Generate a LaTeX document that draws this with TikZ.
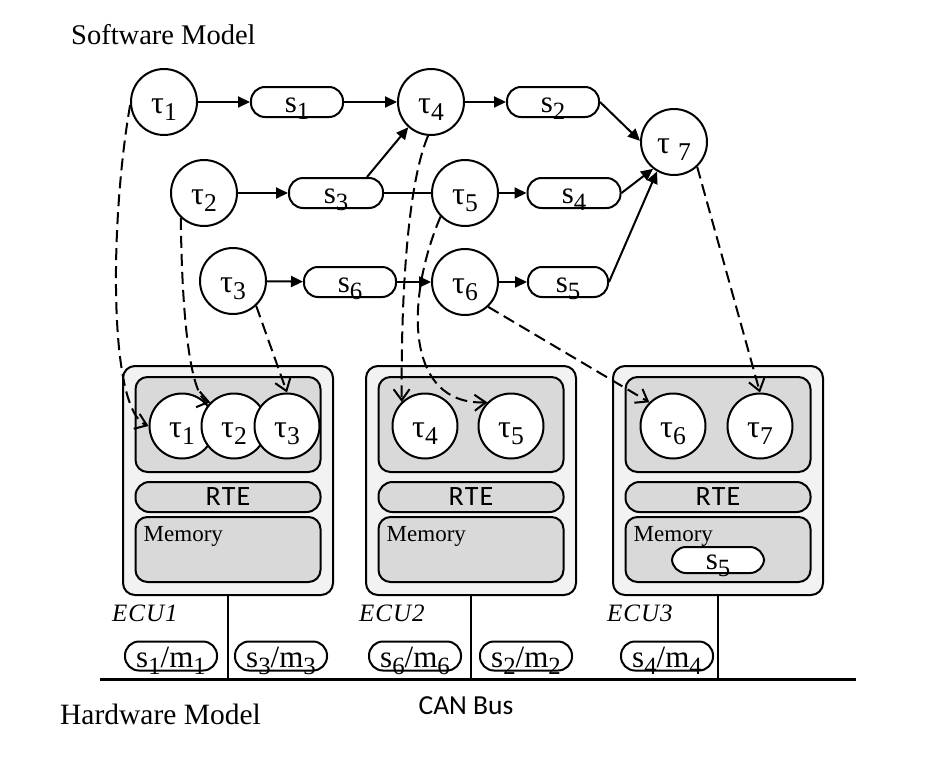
\documentclass[tikz,border=0pt]{standalone}
\usepackage{fontspec}
\usepackage{graphicx}
\setmainfont{Liberation Serif}
\newfontfamily\sansf{Carlito}
\usetikzlibrary{arrows.meta}
\newcommand\lo[1]{\raisebox{-0.24em}{\scalebox{0.8}{#1}}}
\definecolor{outerg}{RGB}{242,242,242}
\definecolor{innerg}{RGB}{217,217,217}
\begin{document}
\begin{tikzpicture}[x=1pt,y=-1pt,
  lw/.style={line width=2pt},
  task/.style={circle, draw, lw, fill=white, minimum size=66pt, inner sep=0pt,
    font=\fontsize{32}{32}\selectfont, text height=22pt, text depth=0pt},
  hwtask/.style={task, minimum size=65pt, text height=22pt},
  msg/.style={rectangle, rounded corners=14pt, draw, lw, fill=white, minimum width=92pt,
    minimum height=30pt, inner sep=0pt, font=\fontsize{31}{31}\selectfont,
    text height=20pt, text depth=0pt},
  busmsg/.style={msg, minimum height=29pt, font=\fontsize{31}{31}\selectfont, text height=22pt},
  ecuout/.style={rectangle, rounded corners=12pt, draw, lw, fill=outerg, minimum width=210pt, minimum height=229pt},
  ecuin/.style={rectangle, rounded corners=12pt, draw, lw, fill=innerg, minimum width=185pt, minimum height=95pt},
  rteb/.style={rectangle, rounded corners=14pt, draw, lw, fill=innerg, minimum width=185pt, minimum height=30pt,
    inner sep=0pt, font=\sansf\fontsize{28}{28}\selectfont},
  memb/.style={rectangle, rounded corners=12pt, draw, lw, fill=innerg, minimum width=185pt, minimum height=65pt},
  sol/.style={lw, -{Triangle[length=12pt,width=11pt]}},
  plain/.style={lw},
  map/.style={lw, dash pattern=on 12pt off 6pt, -{Straight Barb[length=11pt,width=16pt]}},
  memlabel/.style={anchor=base west, font=\fontsize{23}{23}\selectfont, inner sep=0pt},
  eculabel/.style={anchor=base west, font=\itshape\fontsize{25}{25}\selectfont, inner sep=0pt},
  title/.style={anchor=base west, font=\fontsize{28.5}{28.5}\selectfont, inner sep=0pt}
]
\useasboundingbox (0,0) rectangle (940,758);

% titles
\node[title] (swm) at (71,44) {Software Model};
\node[title, font=\fontsize{29.5}{29.5}\selectfont] (hwm) at (60,724) {Hardware Model};
\node[anchor=base, inner sep=0pt, font=\sansf\fontsize{27.5}{27.5}\selectfont] (can) at (466,714) {CAN Bus};

% software model
\node[task] (t1) at (164,102) {τ\lo{1}};
\node[msg]  (s1) at (297,102) {s\lo{1}};
\node[task] (t4) at (431,102) {τ\lo{4}};
\node[msg]  (s2) at (553,102) {s\lo{2}};
\node[task] (t7) at (674,142) {τ \lo{7}};
\node[task] (t2) at (204,193) {τ\lo{2}};
\node[msg, minimum width=94pt] (s3) at (336,193) {s\lo{3}};
\node[task] (t5) at (465,193) {τ\lo{5}};
\node[msg, minimum width=93pt] (s4) at (574,193) {s\lo{4}};
\node[task] (t3) at (233,281) {τ\lo{3}};
\node[msg]  (s6) at (350,282) {s\lo{6}};
\node[task] (t6) at (465,282) {τ\lo{6}};
\node[msg, minimum width=80pt] (s5) at (568,282) {s\lo{5}};

\draw[sol] (t1) -- (s1);
\draw[sol] (s1) -- (t4);
\draw[sol] (t4) -- (s2);
\draw[sol] (s2.east) -- (t7.178);
\draw[sol] (t2) -- (s3);
\draw[sol] ([xshift=31pt]s3.north) -- (t4.228);
\draw[plain] (s3) -- (t5);
\draw[sol] (t5) -- (s4);
\draw[sol] (s4.east) -- (t7.232);
\draw[sol] (t3) -- (s6);
\draw[sol] (s6) -- (t6);
\draw[sol] (t6) -- (s5);
\draw[sol] (s5.east) -- (t7.240);

% hardware model
\coordinate (busL) at (100,679);
\coordinate (busR) at (856,679);

\foreach \n/\x in {1/228,2/471,3/718}{
  \node[ecuout] (ecu\n) at (\x,480.5) {};
  \node[ecuin]  (in\n)  at (\x,424.5) {};
  \node[rteb]   (rte\n) at (\x,497) {R\kern1pt T\kern1pt E};
  \node[memb]   (mem\n) at (\x,549.5) {};
  \node[memlabel] (ml\n) at ([xshift=9pt,yshift=-25pt]mem\n.north west) {Memory};
  \draw[lw] (ecu\n.south) -- (ecu\n.south |- busL);
}
\node[eculabel] (e1) at (112,621) {E\kern1pt C\kern1pt U\kern1pt 1};
\node[eculabel] (e2) at (359,621) {E\kern1pt C\kern1pt U\kern1pt 2};
\node[eculabel] (e3) at (607,621) {E\kern1pt C\kern1pt U\kern1pt 3};

\node[msg, minimum height=26pt, text height=18pt] (ms5) at (718,560) {s\lo{5}};

\node[hwtask] (h1) at (182,426) {τ\lo{1}};
\node[hwtask] (h2) at (234,426) {τ\lo{2}};
\node[hwtask] (h3) at (287,426) {τ\lo{3}};
\node[hwtask] (h4) at (425,426) {τ\lo{4}};
\node[hwtask] (h5) at (511,426) {τ\lo{5}};
\node[hwtask] (h6) at (673,426) {τ\lo{6}};
\node[hwtask] (h7) at (760,426) {τ\lo{7}};

\draw[line width=3pt] (busL) -- (busR);
\node[busmsg] (m1) at (171,656) {s\lo{1}/m\lo{1}};
\node[busmsg] (m3) at (281,656) {s\lo{3}/m\lo{3}};
\node[busmsg] (m6) at (415,656) {s\lo{6}/m\lo{6}};
\node[busmsg] (m2) at (526,656) {s\lo{2}/m\lo{2}};
\node[busmsg] (m4) at (667,656) {s\lo{4}/m\lo{4}};

% mapping arrows
\draw[map] (t1.185) .. controls (110,220) and (108,410) .. (h1.west);
\draw[map] (t2.227) .. controls (182,330) and (192,398) .. (h2.135);
\draw[map] (t3.313) -- (h3.north);
\draw[map] (t4.265) .. controls (405,190) and (401,320) .. (h4.134);
\draw[map] (t5.224) .. controls (405,300) and (405,405) .. (h5.135);
\draw[map] (t6.313) -- (h6.135);
\draw[map] (t7.313) -- (h7.north);
\end{tikzpicture}
\end{document}
